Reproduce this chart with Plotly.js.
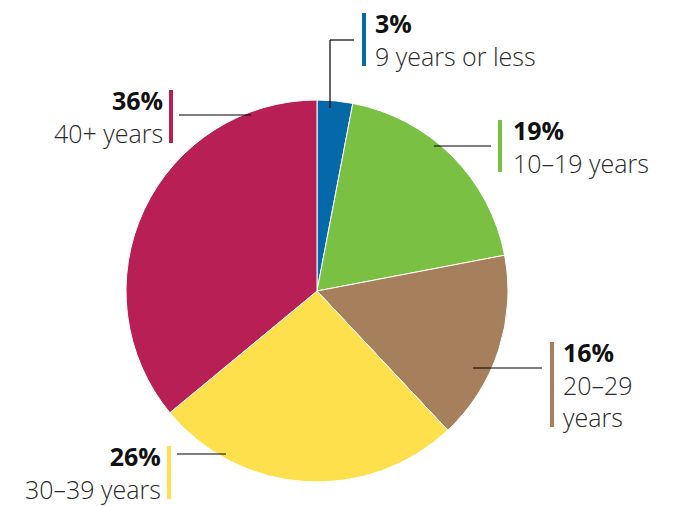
<!DOCTYPE html>
<html><head><meta charset="utf-8">
<script src="https://cdn.plot.ly/plotly-3.0.1.min.js"></script>
<style>html,body{margin:0;padding:0;background:#fff}#c{width:675px;height:506px}</style>
</head><body><div id="c"></div>
<script>
const categories = ["9 years or less", "10–19 years", "20–29<br>years", "30–39 years", "40+ years"];
const values = [3, 19, 16, 26, 36];
const pctLabels = ["3%", "19%", "16%", "26%", "36%"];
const colors = ["#0468a9", "#7ac143", "#a67f5c", "#fee04c", "#b81f55"];

const W = 675, H = 506;
const px = x => x / W, py = y => 1 - y / H;
const cx = 317, cy = 291, r = 191;

const lab = [
  {tx: 373, ty: 4, xa: "left", bx: 364, b0: 13, b1: 66, lead: [[330,108],[330,40],[354,40]]},
  {tx: 511, ty: 111, xa: "left", bx: 500, b0: 120, b1: 172, lead: [[434,146],[491,146]]},
  {tx: 561, ty: 333, xa: "left", bx: 552, b0: 342, b1: 427, lead: [[473,368],[542,368]]},
  {tx: 163, ty: 437, xa: "right", bx: 169, b0: 446, b1: 499, lead: [[177,454],[226,454]]},
  {tx: 165, ty: 81, xa: "right", bx: 171, b0: 90, b1: 143, lead: [[179,115],[251,115]]}
];

const shapes = [], annotations = [];
lab.forEach((l, i) => {
  shapes.push({type: "line", xref: "paper", yref: "paper", x0: px(l.bx), x1: px(l.bx), y0: py(l.b0), y1: py(l.b1), line: {color: colors[i], width: 4}});
  for (let k = 0; k < l.lead.length - 1; k++) {
    const a = l.lead[k], b = l.lead[k+1];
    shapes.push({type: "line", xref: "paper", yref: "paper", x0: px(a[0]), y0: py(a[1]), x1: px(b[0]), y1: py(b[1]), line: {color: "#000", width: 1.2}});
  }
  annotations.push({
    xref: "paper", yref: "paper", x: px(l.tx), y: py(l.ty), xanchor: l.xa, yanchor: "top",
    align: l.xa, showarrow: false,
    text: "<b><span style='color:#111'>" + pctLabels[i] + "</span></b><br>" + categories[i],
    font: {family: "Open Sans, sans-serif", size: 25, color: "#2a2a2a", weight: 300}
  });
});

Plotly.newPlot("c", [{
  type: "pie", values: values, labels: categories, marker: {colors: colors, line: {color: "#fff", width: 1}},
  sort: false, direction: "clockwise", rotation: 0, textinfo: "none", hoverinfo: "none",
  domain: {x: [px(cx - r), px(cx + r)], y: [py(cy + r), py(cy - r)]}
}], {
  width: W, height: H, margin: {l: 0, r: 0, t: 0, b: 0}, showlegend: false,
  paper_bgcolor: "#fff", shapes: shapes, annotations: annotations
}, {displayModeBar: false, staticPlot: true});
</script></body></html>
